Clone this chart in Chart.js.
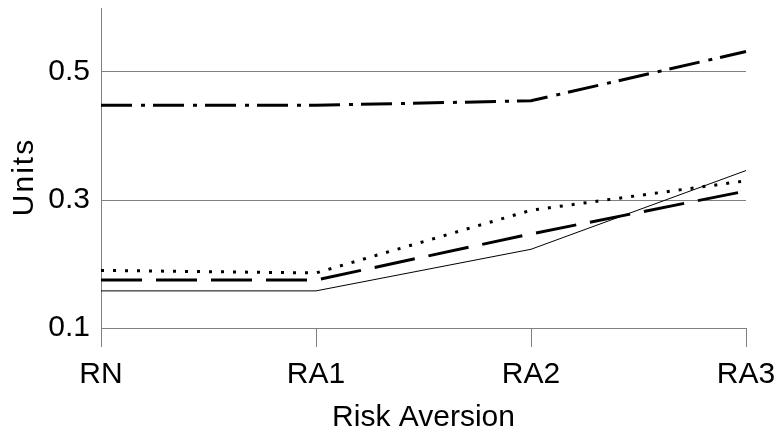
<!DOCTYPE html>
<html>
<head>
<meta charset="utf-8">
<script src="https://cdn.jsdelivr.net/npm/chart.js@4/dist/chart.umd.min.js"></script>
<style>
  html, body { margin: 0; padding: 0; background: #ffffff; }
  #wrap { width: 779px; height: 435px; }
</style>
</head>
<body>
<div id="wrap"><canvas id="chart" width="779" height="435"></canvas></div>
<script>
// Risk-aversion levels along the x axis
const categories = ['RN', 'RA1', 'RA2', 'RA3'];

// Series values (units)
const seriesDashDot = [0.448, 0.448, 0.455, 0.532];
const seriesSolid   = [0.158, 0.158, 0.223, 0.346];
const seriesDotted  = [0.190, 0.186, 0.284, 0.330];
const seriesDashed  = [0.175, 0.175, 0.247, 0.314];

// Y-axis tick labels
const yTicks = [0.1, 0.3, 0.5];

const FONT = { family: '"Liberation Sans", Arial, Helvetica, sans-serif', size: 30 };
const AXIS_GRAY = '#808080';

function lineSet(label, data, width, dash) {
  return {
    label: label,
    data: data,
    borderColor: '#000000',
    backgroundColor: '#000000',
    borderWidth: width,
    borderDash: dash,
    borderCapStyle: 'butt',
    borderJoinStyle: 'miter',
    tension: 0,
    pointRadius: 0,
    pointHoverRadius: 0,
    fill: false
  };
}

// Vertical "Units" caption, placed a little below the middle of the value axis
const yCaption = {
  id: 'yCaption',
  afterDraw: function (chart) {
    const ctx = chart.ctx;
    const area = chart.chartArea;
    ctx.save();
    ctx.translate(25, (area.top + area.bottom) / 2 + 9);
    ctx.rotate(-Math.PI / 2);
    ctx.font = FONT.size + 'px ' + FONT.family;
    ctx.fillStyle = '#000000';
    ctx.textAlign = 'center';
    ctx.textBaseline = 'middle';
    if ('letterSpacing' in ctx) { ctx.letterSpacing = '2px'; }
    ctx.fillText('Units', 0, 0);
    ctx.restore();
  }
};

new Chart(document.getElementById('chart'), {
  type: 'line',
  data: {
    labels: categories,
    datasets: [
      lineSet('Dash-dot', seriesDashDot, 3, [31, 9, 4, 8]),
      lineSet('Solid', seriesSolid, 1, []),
      lineSet('Dotted', seriesDotted, 3, [3, 9]),
      lineSet('Dashed', seriesDashed, 3, [41, 14])
    ]
  },
  plugins: [yCaption],
  options: {
    responsive: false,
    animation: false,
    devicePixelRatio: 1,
    layout: { padding: { top: 8, right: 33, bottom: 0, left: 0 } },
    plugins: {
      legend: { display: false },
      tooltip: { enabled: false }
    },
    scales: {
      x: {
        type: 'category',
        offset: false,
        grid: {
          drawOnChartArea: false,
          drawTicks: true,
          tickLength: 19,
          color: AXIS_GRAY,
          lineWidth: 1
        },
        border: { display: true, color: AXIS_GRAY, width: 1 },
        ticks: {
          font: FONT,
          color: '#000000',
          padding: 10,
          maxRotation: 0,
          autoSkip: false
        },
        title: {
          display: true,
          text: 'Risk Aversion',
          font: FONT,
          color: '#000000',
          padding: { top: 0, bottom: -1 }
        },
        afterFit: function (scale) {
          scale.height = 107;
          scale.paddingLeft = 0;
          scale.paddingRight = 0;
        }
      },
      y: {
        type: 'linear',
        min: 0.1,
        max: 0.6,
        grid: {
          drawOnChartArea: true,
          drawTicks: false,
          color: AXIS_GRAY,
          lineWidth: 1
        },
        border: { display: true, color: AXIS_GRAY, width: 1 },
        ticks: {
          font: FONT,
          color: '#000000',
          padding: 11,
          callback: function (v) { return String(Math.round(v * 10) / 10); }
        },
        afterBuildTicks: function (scale) {
          scale.ticks = yTicks.map(function (v) { return { value: v }; });
        },
        title: { display: false },
        afterFit: function (scale) {
          scale.width = 101;
          scale.paddingTop = 0;
          scale.paddingBottom = 0;
        }
      }
    }
  }
});
</script>
</body>
</html>
